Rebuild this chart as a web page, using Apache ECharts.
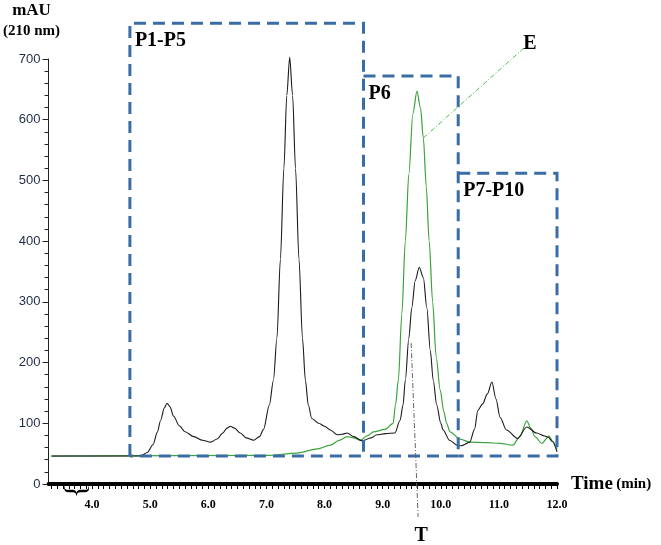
<!DOCTYPE html>
<html>
<head>
<meta charset="utf-8">
<script src="https://cdn.jsdelivr.net/npm/echarts@6/dist/echarts.min.js"></script>
<style>
  html, body { margin: 0; padding: 0; background: #fff; }
  #chart { width: 661px; height: 545px; }
</style>
</head>
<body>
<div id="chart"></div>
<script>
// chromatogram T (black) and E (green)
const timesT = [3.3, 4.8, 4.85, 4.95, 5.05, 5.12, 5.18, 5.24, 5.29, 5.34, 5.4, 5.5, 5.6, 5.75, 5.9, 6.04, 6.15, 6.25, 6.32, 6.38, 6.45, 6.55, 6.65, 6.78, 6.88, 6.95, 7.05, 7.12, 7.18, 7.24, 7.3, 7.35, 7.4, 7.45, 7.5, 7.56, 7.62, 7.67, 7.72, 7.78, 7.9, 8.0, 8.1, 8.22, 8.3, 8.39, 8.5, 8.65, 8.8, 8.9, 9.05, 9.21, 9.3, 9.35, 9.39, 9.45, 9.5, 9.56, 9.63, 9.7, 9.76, 9.82, 9.87, 9.93, 10.0, 10.04, 10.15, 10.28, 10.35, 10.5, 10.58, 10.64, 10.72, 10.8, 10.88, 10.95, 11.02, 11.13, 11.32, 11.48, 11.65, 11.79, 11.85, 11.92, 12.0];
const valuesT = [46, 46, 47, 52, 65, 85, 105, 125, 133, 127, 112, 96, 86, 78, 72, 69, 74, 84, 92, 95, 92, 84, 76, 72, 78, 90, 130, 171, 240, 370, 520, 640, 703, 640, 520, 370, 240, 171, 130, 108, 100, 95, 89, 81, 82, 84, 78, 71, 76, 81, 83, 84, 105, 130, 171, 240, 290, 335, 357, 340, 290, 220, 171, 130, 100, 89, 72, 64, 63, 69, 90, 122, 132, 148, 168, 140, 110, 89, 75, 94, 84, 79, 77, 70, 53];

const timesE = [3.3, 7.0, 7.53, 7.88, 8.1, 8.25, 8.39, 8.5, 8.61, 8.75, 8.84, 9.04, 9.18, 9.22, 9.27, 9.33, 9.39, 9.45, 9.52, 9.59, 9.65, 9.7, 9.75, 9.8, 9.86, 9.92, 9.99, 10.05, 10.1, 10.16, 10.33, 10.5, 10.8, 11.02, 11.24, 11.36, 11.48, 11.55, 11.62, 11.74, 11.86, 11.93, 12.0];
const valuesE = [46, 47, 51, 58, 64, 72, 78, 76, 72, 80, 86, 90, 100, 130, 171, 280, 400, 510, 610, 647, 620, 570, 490, 400, 300, 210, 155, 120, 100, 86, 74, 69, 68, 67, 64, 78, 104, 92, 78, 67, 79, 70, 56];

const xLabels = [4, 5, 6, 7, 8, 9, 10, 11, 12];
const yLabels = [0, 100, 200, 300, 400, 500, 600, 700];

// fraction boxes (time range, top in mAU); the later boxes share their left edge
const boxNames = ["P1-P5", "P6", "P7-P10"];
const boxStart = [4.65, 8.67, 10.3];
const boxEnd = [8.67, 10.3, 12.0];
const boxTop = [759, 672, 512];
const boxBottom = 46;

// leader lines for the trace labels: [t0, v0, t1, v1]
const leaderNames = ["E", "T"];
const leaderLines = [
  [9.7, 570, 11.43, 718],
  [9.49, 232, 9.61, -54],
];

const xTicks = [];
for (let i = 33; i <= 120; i++) xTicks.push(i / 10);

const pairs = (xs, ys) => xs.map((x, i) => [x, ys[i]]);

const chart = echarts.init(document.getElementById("chart"));

const serif = "'Liberation Serif', 'DejaVu Serif', serif";
const boxColor = "#3a6ca5";

function renderBox(params, api) {
  const i = params.dataIndex;
  const tl = api.coord([api.value(0), api.value(2)]);
  const br = api.coord([api.value(1), api.value(3)]);
  const bl = [tl[0], br[1]];
  const tr = [br[0], tl[1]];
  const pts = i === 0 ? [bl, tl, tr, br, bl] : [tl, tr, br, bl];
  return {
    type: "group",
    children: [
      {
        type: "polyline",
        shape: { points: pts },
        style: { stroke: boxColor, lineWidth: 3, lineDash: [12, 7], fill: null },
      },
      {
        type: "text",
        x: tl[0] + 5,
        y: tl[1] + 8,
        style: {
          text: boxNames[i],
          font: "bold 20px " + serif,
          fill: "#000",
        },
      },
    ],
  };
}

function renderLeader(params, api) {
  const i = params.dataIndex;
  const a = api.coord([api.value(0), api.value(1)]);
  const b = api.coord([api.value(2), api.value(3)]);
  const isE = i === 0;
  return {
    type: "group",
    children: [
      {
        type: "line",
        shape: { x1: a[0], y1: a[1], x2: b[0], y2: b[1] },
        style: {
          stroke: isE ? "#4cc04c" : "#666",
          lineWidth: 1,
          lineDash: [5, 2, 1, 2],
        },
      },
      {
        type: "text",
        x: isE ? b[0] + 6 : b[0] + 3,
        y: isE ? b[1] - 4 : b[1] + 9,
        style: {
          text: leaderNames[i],
          font: "bold 20px " + serif,
          fill: "#000",
          align: "center",
          verticalAlign: isE ? "middle" : "top",
        },
      },
    ],
  };
}

chart.setOption({
  animation: false,
  grid: { left: 47, right: 104, top: 59, bottom: 61 },
  xAxis: {
    type: "value",
    min: 3.25,
    max: 12,
    name: "{a|Time} {b|(min)}",
    nameLocation: "end",
    nameGap: 14,
    nameTextStyle: {
      rich: {
        a: { fontFamily: serif, fontWeight: "bold", fontSize: 19, color: "#000" },
        b: { fontFamily: serif, fontWeight: "bold", fontSize: 15, color: "#000" },
      },
    },
    axisLine: { onZero: false, lineStyle: { color: "#000", width: 4 } },
    axisTick: { customValues: xTicks, length: 5, lineStyle: { color: "#000", width: 1 } },
    axisLabel: {
      customValues: xLabels,
      formatter: (v) => v.toFixed(1),
      fontFamily: serif,
      fontWeight: "bold",
      fontSize: 12,
      color: "#000",
      margin: 15,
    },
    splitLine: { show: false },
  },
  yAxis: {
    type: "value",
    min: 0,
    max: 700,
    interval: 100,
    name: "{a|mAU}\n{b|(210 nm)}",
    nameLocation: "end",
    nameGap: 18,
    nameTextStyle: {
      align: "center",
      padding: [0, 34, 0, 0],
      rich: {
        a: { fontFamily: serif, fontWeight: "bold", fontSize: 17, color: "#000", lineHeight: 21 },
        b: { fontFamily: serif, fontWeight: "bold", fontSize: 15, color: "#000", lineHeight: 20 },
      },
    },
    axisLine: { show: true, lineStyle: { color: "#222", width: 1 } },
    axisTick: { show: true, length: 6, lineStyle: { color: "#222" } },
    minorTick: { show: true, splitNumber: 5, length: 4, lineStyle: { color: "#222" } },
    axisLabel: {
      customValues: yLabels,
      fontFamily: "'Liberation Sans', Arial, sans-serif",
      fontSize: 13,
      color: "#1e2b48",
      margin: 8,
    },
    splitLine: { show: false },
  },
  series: [
    {
      name: "E",
      type: "line",
      data: pairs(timesE, valuesE),
      smooth: 0.3,
      smoothMonotone: "x",
      symbol: "none",
      clip: false,
      lineStyle: { color: "#3aa33a", width: 1.2 },
      z: 3,
    },
    {
      name: "T",
      type: "line",
      data: pairs(timesT, valuesT),
      smooth: 0.3,
      smoothMonotone: "x",
      symbol: "none",
      clip: false,
      lineStyle: { color: "#1a1a1a", width: 1.1 },
      z: 4,
    },
    {
      name: "fractions",
      type: "custom",
      clip: false,
      silent: true,
      renderItem: renderBox,
      encode: { x: [0, 1], y: [2, 3] },
      data: boxNames.map((n, i) => [boxStart[i], boxEnd[i], boxTop[i], boxBottom]),
      z: 5,
    },
    {
      name: "leaders",
      type: "custom",
      clip: false,
      silent: true,
      renderItem: renderLeader,
      encode: { x: [0, 2], y: [1, 3] },
      data: leaderLines,
      z: 6,
    },
  ],
  graphic: [
    {
      type: "text",
      x: 77,
      y: 491,
      rotation: -Math.PI / 2,
      style: {
        text: "}",
        fontFamily: serif,
        fontSize: 30,
        fill: "#000",
        align: "center",
        verticalAlign: "middle",
      },
    },
  ],
});
</script>
</body>
</html>
